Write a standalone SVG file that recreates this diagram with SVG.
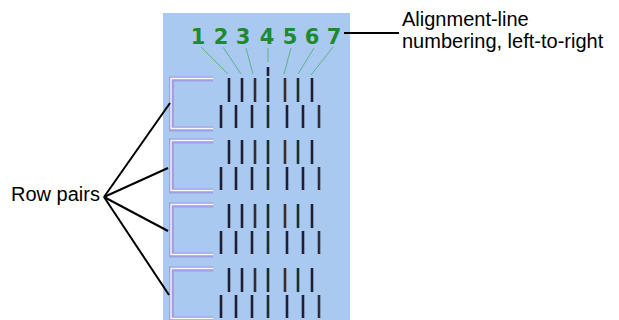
<svg xmlns="http://www.w3.org/2000/svg" width="619" height="320" viewBox="0 0 619 320">
<defs>
<style>
.lbl{font-family:"Liberation Sans",Arial,sans-serif;font-size:20px;fill:#000}
.dig{font-family:"DejaVu Sans",Verdana,sans-serif;font-size:21px;font-weight:bold;fill:#1e8a2e;text-anchor:middle}
.lead{stroke:#5cb486;stroke-width:1;fill:none}
.bar{stroke:#1e1e36;stroke-width:2.6;stroke-linecap:butt}
.bro{stroke:#a29ee2;stroke-width:5;fill:none}
.bri{stroke:#f6f6ff;stroke-width:1.4;fill:none}
.call{stroke:#000;stroke-width:2;fill:none}
</style>
<g id="pairShape">
<path class="bro" d="M213,1 H171.5 V51 H213"/>
<path class="bri" d="M213,0.5 H171 V50.5 H213"/>
<g class="bar">
<line x1="229" y1="0" x2="229" y2="24"/>
<line x1="242" y1="0" x2="242" y2="24"/>
<line x1="255" y1="0" x2="255" y2="24" stroke="#352a2c"/>
<line x1="268" y1="0" x2="268" y2="24" stroke="#1a3028"/>
<line x1="285" y1="0" x2="285" y2="24" stroke="#3a2c2a"/>
<line x1="298" y1="0" x2="298" y2="24" stroke="#1a3028"/>
<line x1="312" y1="0" x2="312" y2="24"/>
<line x1="221" y1="27" x2="221" y2="50"/>
<line x1="236" y1="27" x2="236" y2="50"/>
<line x1="252" y1="27" x2="252" y2="50"/>
<line x1="268" y1="27" x2="268" y2="50" stroke="#1a3028"/>
<line x1="287" y1="27" x2="287" y2="50"/>
<line x1="303" y1="27" x2="303" y2="50"/>
<line x1="319" y1="27" x2="319" y2="50" stroke="#352a2c"/>
</g>
</g>
</defs>
<rect id="panel" x="163" y="13" width="187" height="307" fill="#a9c9f1"/>
<g id="numbers">
<text class="dig" x="198" y="43.5">1</text>
<text class="dig" x="221" y="43.5">2</text>
<text class="dig" x="243" y="43.5">3</text>
<text class="dig" x="267" y="43.5">4</text>
<text class="dig" x="290" y="43.5">5</text>
<text class="dig" x="312" y="43.5">6</text>
<text class="dig" x="334" y="43.5">7</text>
<g>
<line class="lead" x1="201" y1="47" x2="228" y2="74"/>
<line class="lead" x1="223" y1="47" x2="241" y2="74"/>
<line class="lead" x1="246" y1="48" x2="253" y2="74"/>
<line class="lead" x1="268" y1="48" x2="268" y2="62"/>
<line class="lead" x1="291" y1="48" x2="284" y2="74"/>
<line class="lead" x1="314" y1="48" x2="298" y2="74"/>
<line class="lead" x1="333" y1="47" x2="311" y2="75"/>
</g>
</g>
<g id="pair1"><use href="#pairShape" y="78"/><line class="bar" x1="268" y1="67" x2="268" y2="76" stroke="#1e1e36"/></g>
<g id="pair2"><use href="#pairShape" y="140"/></g>
<g id="pair3"><use href="#pairShape" y="204"/></g>
<g id="pair4"><use href="#pairShape" y="268"/></g>
<g id="connectors">
<line class="call" x1="344" y1="33" x2="399" y2="33"/>
<line class="call" x1="104" y1="197" x2="170" y2="103"/>
<line class="call" x1="104" y1="197" x2="168" y2="168"/>
<line class="call" x1="104" y1="197" x2="168" y2="231"/>
<line class="call" x1="104" y1="197" x2="169" y2="295"/>
</g>
<g id="label-align">
<text class="lbl" x="402" y="26">Alignment-line</text>
<text class="lbl" x="402" y="48">numbering, left-to-right</text>
</g>
<g id="label-rows">
<text class="lbl" x="11" y="201">Row pairs</text>
</g>
</svg>
